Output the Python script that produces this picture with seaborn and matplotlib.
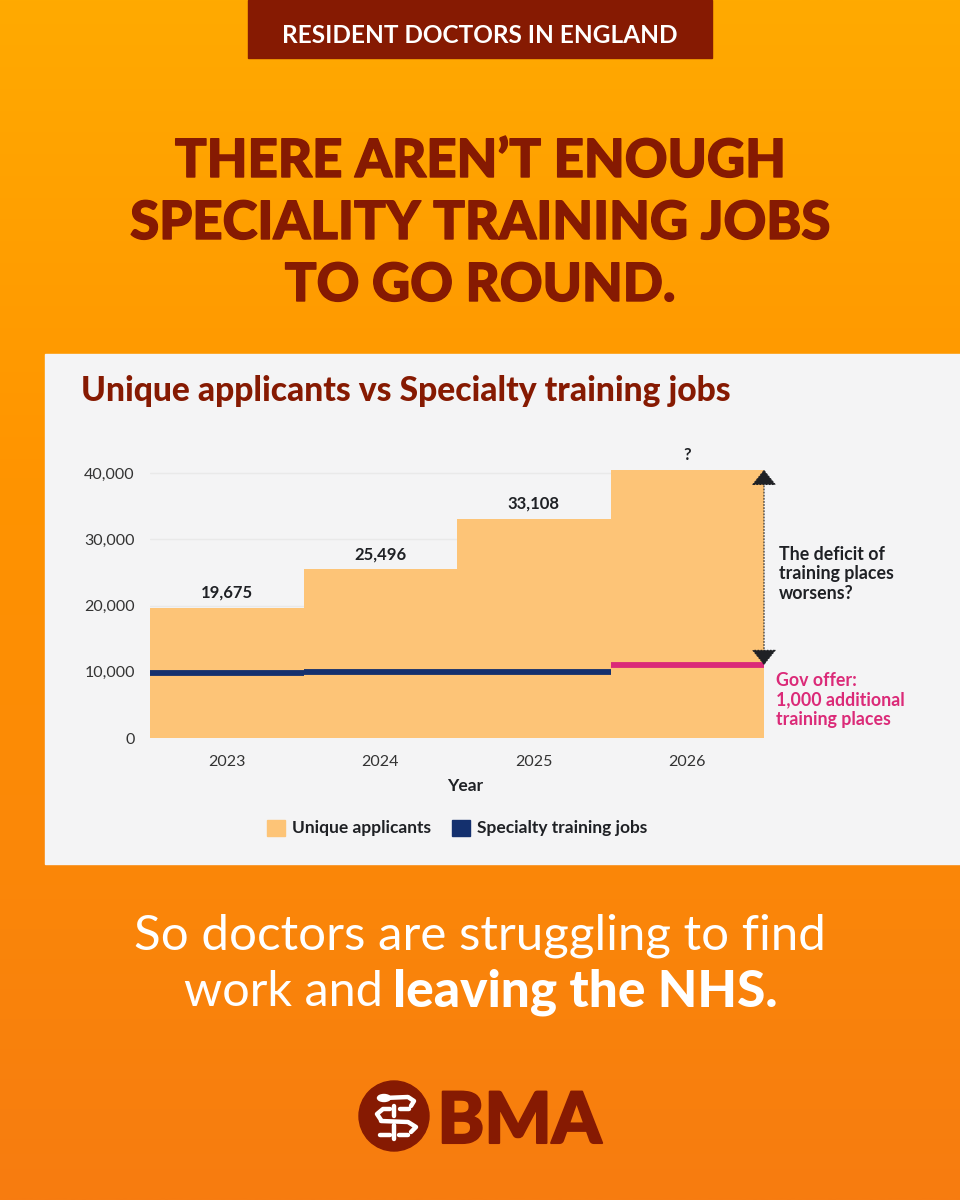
import numpy as np
import pandas as pd
import matplotlib
matplotlib.use('Agg')
import matplotlib.pyplot as plt
import matplotlib.patheffects as pe
from matplotlib.patches import Rectangle, Circle, Ellipse
import seaborn as sns

years = ['2023', '2024', '2025', '2026']
applicants = [19675, 25496, 33108, 40500]
jobs = [9750, 9950, 10000, 11000]
value_labels = ['19,675', '25,496', '33,108', '?']
y_ticks = [0, 10000, 20000, 30000, 40000]

DARK_RED = '#861A02'
ORANGE_BAR = '#FDC477'
NAVY = '#14306E'
PINK = '#DB2A78'
INK = '#1F2125'
PANEL = '#F4F4F5'

sns.set_theme(style='white')
plt.rcParams['font.family'] = ['Lato', 'DejaVu Sans']

df = pd.DataFrame({'Year': years, 'Applicants': applicants, 'Jobs': jobs})

fig = plt.figure(figsize=(9.6, 12), dpi=100)


def heavy(px):
    # thicken the text a little, Lato Black is lighter than the original
    return [pe.withStroke(linewidth=px, foreground=DARK_RED)]


# background layer in pixel coordinates
bg = fig.add_axes([0, 0, 1, 1], zorder=0)
bg.set_xlim(0, 960)
bg.set_ylim(1200, 0)
bg.axis('off')
stops = np.array([[255, 170, 0], [255, 148, 0], [247, 124, 16]]) / 255
t = np.linspace(0, 1, 400)
grad = np.stack([np.interp(t, [0, 0.4, 1], stops[:, i]) for i in range(3)], axis=1)
bg.imshow(grad[:, None, :], extent=[0, 960, 1200, 0], aspect='auto')
bg.add_patch(Rectangle((248, 0), 464, 58, color=DARK_RED))
bg.add_patch(Rectangle((45, 354), 915, 510, color=PANEL))
bg.text(480, 43, 'RESIDENT DOCTORS IN ENGLAND', color='white', fontsize=17.6, fontweight='bold',
        ha='center', va='baseline')

for y, line in zip([177, 239, 301], ['THERE AREN\u2019T ENOUGH', 'SPECIALITY TRAINING JOBS', 'TO GO ROUND.']):
    bg.text(480, y, line, color=DARK_RED, fontsize=38, fontweight='black', ha='center', va='baseline',
            path_effects=heavy(1))

bg.text(81, 401, 'Unique applicants vs Specialty training jobs', color=DARK_RED, fontsize=24.2,
        fontweight='black', ha='left', va='baseline')

bg.text(480, 950, 'So doctors are struggling to find', color='white', fontsize=35.5, ha='center', va='baseline')
bg.text(383, 1006, 'work and', color='white', fontsize=35, ha='right', va='baseline')
bg.text(393, 1006, 'leaving the NHS.', color='white', fontsize=37, fontweight='black', ha='left', va='baseline')

# logo
bg.add_patch(Circle((394, 1116), 35, color=DARK_RED))
bg.add_patch(Ellipse((384, 1098), 13, 7, color='white'))
logo_strokes = [
    ([384, 408, 414, 411], [1098, 1097, 1101, 1106]),
    ([390, 383, 377, 381], [1109, 1109, 1114, 1120]),
    ([381, 408, 416, 411], [1121, 1122, 1127, 1132]),
    ([400, 409], [1109, 1109]),
    ([380, 390], [1135, 1135]),
    ([399, 408], [1135, 1135]),
    ([394, 394], [1106, 1116]),
    ([394, 394], [1125, 1139]),
]
for xs, ys in logo_strokes:
    bg.plot(xs, ys, color='white', lw=3.2, solid_capstyle='round')
bg.text(519.5, 1143, 'BMA', color=DARK_RED, fontsize=51, fontweight='black', ha='center', va='baseline',
        path_effects=heavy(1.5))

# chart
ax = fig.add_axes([150 / 960, 1 - 738 / 1200, 614 / 960, 272 / 1200], zorder=1)
ax.patch.set_alpha(0)
sns.barplot(data=df, x='Year', y='Applicants', color=ORANGE_BAR, width=1, saturation=1, linewidth=0,
            ax=ax, zorder=2)
ax.set_xlim(-0.5, 3.5)
ax.set_ylim(0, 41057)
ax.set_yticks(y_ticks)
ax.set_yticklabels([f'{v:,}' for v in y_ticks], fontsize=11.5, color='#333333')
ax.tick_params(axis='both', length=0)
ax.tick_params(axis='y', pad=11)
ax.tick_params(axis='x', pad=12, labelsize=11.5, labelcolor='#333333')
ax.yaxis.grid(True, color='#E9E9E9', lw=1, zorder=0)
ax.set_axisbelow(True)
sns.despine(ax=ax, left=True, bottom=True, top=True, right=True)
ax.set_ylabel('')
ax.set_xlabel('Year', fontsize=12.5, fontweight='bold', color=INK, labelpad=6)
ax.xaxis.set_label_coords(0.513, -0.147)

colours = [NAVY, NAVY, NAVY, PINK]
for i, (a, j, lab) in enumerate(zip(applicants, jobs, value_labels)):
    ax.hlines(j, i - 0.5, i + 0.5, color=colours[i], lw=4.2, zorder=3)
    ax.annotate(lab, (i, a), xytext=(0, 5), textcoords='offset points', ha='center', va='bottom',
                fontsize=12, fontweight='bold', color=INK)

ax.annotate('', xy=(3.5, applicants[3]), xytext=(3.5, jobs[3]), annotation_clip=False, zorder=4,
            arrowprops=dict(arrowstyle='<|-|>,head_length=0.5,head_width=0.4', mutation_scale=20,
                            shrinkA=0, shrinkB=0, lw=0.8, linestyle=(0, (1, 1.8)), color=INK))

bg.text(779, 574, 'The deficit of\ntraining places\nworsens?', color=INK, fontsize=12.8, fontweight='bold',
        ha='left', va='center', linespacing=1.15)
bg.text(776, 700, 'Gov offer:\n1,000 additional\ntraining places', color=PINK, fontsize=12.8, fontweight='bold',
        ha='left', va='center', linespacing=1.15)

# legend
handles = [Rectangle((0, 0), 1, 1, color=ORANGE_BAR), Rectangle((0, 0), 1, 1, color=NAVY)]
leg = fig.legend(handles, ['Unique applicants', 'Specialty training jobs'], loc='center',
                 bbox_to_anchor=(457 / 960, 1 - 828 / 1200), ncol=2, frameon=False, fontsize=12.5,
                 handlelength=1.04, handleheight=1.04, handletextpad=0.4, columnspacing=1.2)
for txt in leg.get_texts():
    txt.set_fontweight('bold')
    txt.set_color(INK)

fig.savefig('out.png', dpi=100)
